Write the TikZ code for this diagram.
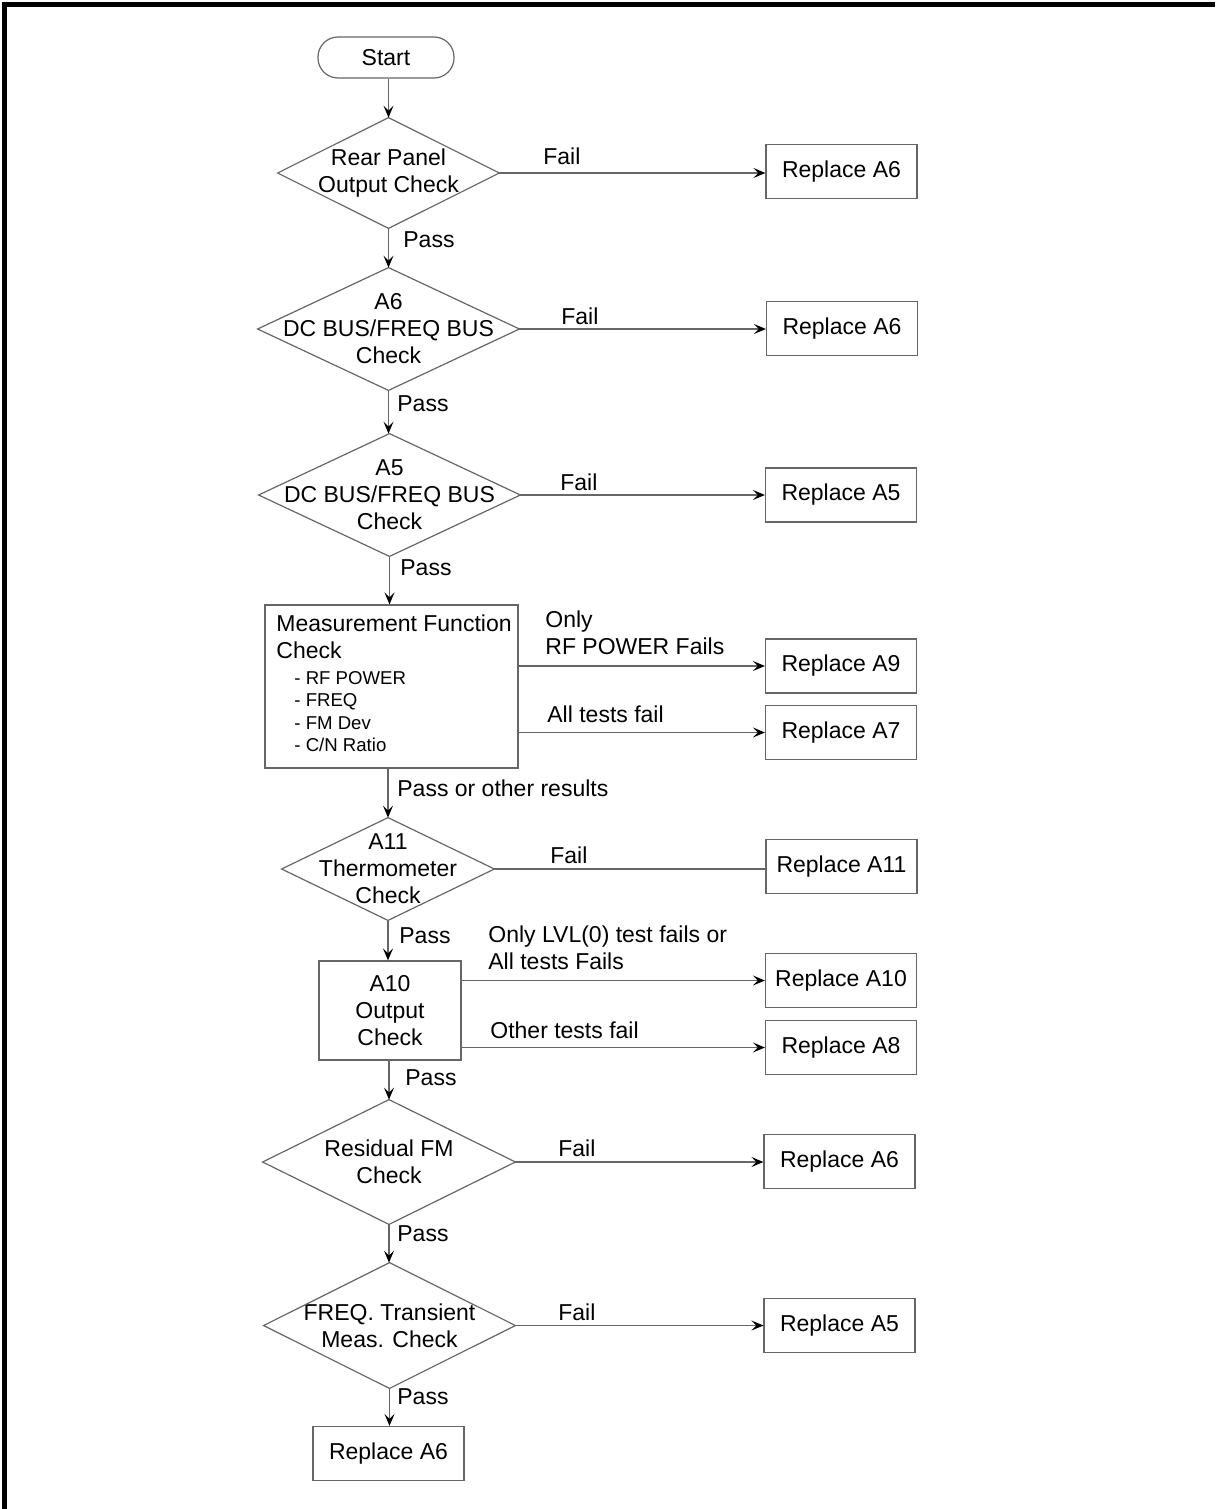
\documentclass[tikz,border=0pt]{standalone}
\usepackage{fontspec}
\setmainfont{Liberation Sans}
\usetikzlibrary{arrows.meta}
\begin{document}
\begin{tikzpicture}[x=0.5pt,y=-0.5pt,
  every node/.style={font=\fontsize{11.5}{13.5}\selectfont, inner sep=0pt, align=center},
  ln/.style={draw=black!60, line width=0.6pt},
  arr/.style={ln, -{Stealth[length=6pt,width=5pt,inset=2.5pt,color=black]}},
  box/.style={ln, minimum width=75.5pt, minimum height=27pt},
  lbl/.style={anchor=west, align=left},
  small/.style={font=\fontsize{9.3}{11.2}\selectfont}
]
\useasboundingbox (0,0) rectangle (1215,1509);
\draw[line width=2.5pt] (4.5,1509) -- (4.5,4.5) -- (1215,4.5);

% main column
\node[ln, rounded corners=10pt, minimum width=68pt, minimum height=20.5pt] (start) at (386,57.5) {Start};
\node[minimum width=110.5pt, minimum height=55pt] (d1) at (388.5,173) {Rear Panel\\Output Check};
\node[minimum width=130.5pt, minimum height=61pt] (d2) at (388.5,329) {A6\\DC BUS/FREQ BUS\\Check};
\node[minimum width=130.5pt, minimum height=61pt] (d3) at (389.5,495) {A5\\DC BUS/FREQ BUS\\Check};
\node[ln, minimum width=126.5pt, minimum height=81.5pt] (meas) at (391.5,686.5) {};
\node[anchor=west, align=left] (meastxt) at (276,636.5) {Measurement Function\\Check};
\node[anchor=west, align=left, small] (measlist) at (294,711.5) {- RF POWER\\- FREQ\\- FM Dev\\- C/N Ratio};
\node[minimum width=106pt, minimum height=51pt] (d4) at (388,869) {A11\\Thermometer\\Check};
\node[ln, minimum width=71pt, minimum height=49.5pt] (a10) at (390,1010.5) {A10\\Output\\Check};
\node[minimum width=126pt, minimum height=62pt] (d5) at (389,1162) {Residual FM\\Check};
\node[minimum width=125.5pt, minimum height=62.5pt] (d6) at (389.5,1325.5) {FREQ. Transient\\Meas. Check};
\node[box] (rend) at (388.5,1453.5) {Replace A6};

\foreach \d in {d1,d2,d3,d4,d5,d6}
  \draw[ln] (\d.north) -- (\d.east) -- (\d.south) -- (\d.west) -- cycle;

% right column
\node[box] (r1) at (841.5,171.5) {Replace A6};
\node[box] (r2) at (842,328.5) {Replace A6};
\node[box] (r3) at (841,495) {Replace A5};
\node[box] (r9) at (841,666) {Replace A9};
\node[box] (r7) at (841,732.5) {Replace A7};
\node[box] (r11) at (841.5,866.5) {Replace A11};
\node[box] (r10) at (841,980.5) {Replace A10};
\node[box] (r8) at (841,1047.5) {Replace A8};
\node[box] (rR) at (839.5,1161.5) {Replace A6};
\node[box] (rF) at (839.5,1325.5) {Replace A5};

% vertical connectors
\draw[arr] (d1.north |- start.south) -- (d1.north);
\draw[arr] (d1.south) -- (d1.south |- d2.north);
\draw[arr] (d2.south) -- (d2.south |- d3.north);
\draw[arr] (d3.south) -- (d3.south |- meas.north);
\draw[arr] (d4.north |- meas.south) -- (d4.north);
\draw[arr] (d4.south) -- (d4.south |- a10.north);
\draw[arr] (d5.north |- a10.south) -- (d5.north);
\draw[arr] (d5.south) -- (d5.south |- d6.north);
\draw[arr] (d6.south) -- (d6.south |- rend.north);

% horizontal connectors
\draw[arr] (d1.east) -- (d1.east -| r1.west);
\draw[arr] (d2.east) -- (d2.east -| r2.west);
\draw[arr] (d3.east) -- (d3.east -| r3.west);
\draw[arr] (meas.east |- r9) -- (r9.west);
\draw[arr] (meas.east |- r7) -- (r7.west);
\draw[ln] (d4.east) -- (d4.east -| r11.west);
\draw[arr] (a10.east |- r10) -- (r10.west);
\draw[arr] (a10.east |- r8) -- (r8.west);
\draw[arr] (d5.east) -- (d5.east -| rR.west);
\draw[arr] (d6.east) -- (d6.east -| rF.west);

% labels
\node[lbl] (f1) at (543,156) {Fail};
\node[lbl] (f2) at (561,316) {Fail};
\node[lbl] (f3) at (560,482) {Fail};
\node[lbl] (f4) at (550,855) {Fail};
\node[lbl] (f5) at (558,1148) {Fail};
\node[lbl] (f6) at (558,1312) {Fail};
\node[lbl] (p1) at (403,240) {Pass};
\node[lbl] (p2) at (397,404) {Pass};
\node[lbl] (p3) at (400,568) {Pass};
\node[lbl] (p4) at (397,788) {Pass or other results};
\node[lbl] (p5) at (399,936) {Pass};
\node[lbl] (p6) at (405,1078) {Pass};
\node[lbl] (p7) at (397,1234) {Pass};
\node[lbl] (p8) at (397,1397) {Pass};
\node[lbl] (l9) at (545,632.5) {Only\\RF POWER Fails};
\node[lbl] (l7) at (547,714) {All tests fail};
\node[lbl] (l10) at (488,947.5) {Only LVL(0) test fails or\\All tests Fails};
\node[lbl] (l8) at (490,1030) {Other tests fail};
\end{tikzpicture}
\end{document}
